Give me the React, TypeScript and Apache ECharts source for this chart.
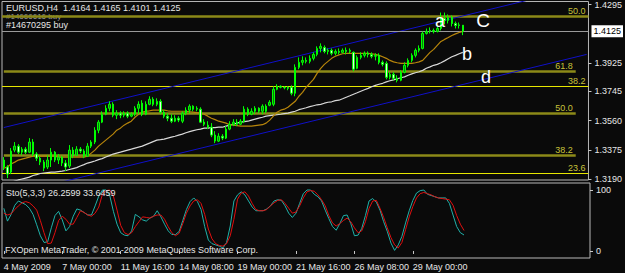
import React, { useEffect, useRef } from "react";
import * as echarts from "echarts";

const tickLabels = ["4 May 2009", "7 May 00:00", "11 May 16:00", "14 May 08:00", "19 May 00:00", "21 May 16:00", "26 May 08:00", "29 May 00:00"];
const barsPerTick = 16;
const slotCount = 161;

const opens = [
  1.3310, 1.3266, 1.3234, 1.3373, 1.3398, 1.3360, 1.3379, 1.3360, 1.3424, 1.3348,
  1.3322, 1.3297, 1.3266, 1.3310, 1.3360, 1.3310, 1.3329, 1.3291, 1.3272, 1.3373,
  1.3341, 1.3379, 1.3367, 1.3335, 1.3398, 1.3424, 1.3499, 1.3550, 1.3600, 1.3638,
  1.3663, 1.3594, 1.3607, 1.3594, 1.3607, 1.3588, 1.3600, 1.3638, 1.3670, 1.3600,
  1.3663, 1.3695, 1.3663, 1.3682, 1.3613, 1.3588, 1.3575, 1.3556, 1.3575, 1.3556,
  1.3607, 1.3626, 1.3651, 1.3632, 1.3632, 1.3550, 1.3531, 1.3518, 1.3468, 1.3430,
  1.3461, 1.3449, 1.3506, 1.3537, 1.3550, 1.3537, 1.3556, 1.3632, 1.3600, 1.3619,
  1.3638, 1.3619, 1.3651, 1.3657, 1.3663, 1.3758, 1.3777, 1.3771, 1.3771, 1.3771,
  1.3733, 1.3897, 1.3929, 1.3941, 1.3935, 1.3954, 1.3979, 1.4017, 1.4023, 1.3998,
  1.4005, 1.3986, 1.3998, 1.3992, 1.4005, 1.3998, 1.3992, 1.3891, 1.3960, 1.3973,
  1.3986, 1.3979, 1.3967, 1.3973, 1.3929, 1.3922, 1.3834, 1.3853, 1.3828, 1.3815,
  1.3866, 1.3910, 1.3941, 1.3973, 1.4005, 1.4017, 1.4112, 1.4124, 1.4131, 1.4124,
  1.4143, 1.4206, 1.4194, 1.4213, 1.4175, 1.4162, 1.4164,
];
const closes = [
  1.3266, 1.3221, 1.3367, 1.3398, 1.3360, 1.3379, 1.3360, 1.3424, 1.3348, 1.3322,
  1.3297, 1.3259, 1.3310, 1.3360, 1.3310, 1.3329, 1.3291, 1.3266, 1.3373, 1.3341,
  1.3379, 1.3367, 1.3335, 1.3398, 1.3424, 1.3499, 1.3550, 1.3600, 1.3638, 1.3663,
  1.3594, 1.3607, 1.3594, 1.3607, 1.3588, 1.3600, 1.3638, 1.3663, 1.3600, 1.3663,
  1.3695, 1.3663, 1.3682, 1.3613, 1.3588, 1.3575, 1.3556, 1.3575, 1.3563, 1.3607,
  1.3626, 1.3651, 1.3632, 1.3638, 1.3550, 1.3537, 1.3518, 1.3468, 1.3430, 1.3461,
  1.3449, 1.3506, 1.3537, 1.3550, 1.3537, 1.3556, 1.3632, 1.3600, 1.3619, 1.3638,
  1.3619, 1.3651, 1.3619, 1.3676, 1.3758, 1.3777, 1.3771, 1.3768, 1.3764, 1.3733,
  1.3897, 1.3929, 1.3941, 1.3935, 1.3954, 1.3979, 1.4017, 1.4030, 1.3998, 1.4005,
  1.3986, 1.3998, 1.3992, 1.4005, 1.3998, 1.4005, 1.3885, 1.3960, 1.3973, 1.3986,
  1.3979, 1.3967, 1.3973, 1.3929, 1.3916, 1.3834, 1.3853, 1.3828, 1.3815, 1.3866,
  1.3910, 1.3941, 1.3973, 1.4005, 1.4017, 1.4112, 1.4124, 1.4131, 1.4124, 1.4143,
  1.4206, 1.4194, 1.4213, 1.4175, 1.4162, 1.4166, 1.4125,
];
const highs = [
  1.3329, 1.3278, 1.3386, 1.3424, 1.3411, 1.3392, 1.3392, 1.3449, 1.3443, 1.3360,
  1.3335, 1.3310, 1.3341, 1.3386, 1.3367, 1.3348, 1.3335, 1.3310, 1.3405, 1.3392,
  1.3398, 1.3392, 1.3379, 1.3417, 1.3436, 1.3518, 1.3563, 1.3619, 1.3657, 1.3682,
  1.3676, 1.3626, 1.3619, 1.3619, 1.3619, 1.3613, 1.3651, 1.3682, 1.3689, 1.3682,
  1.3714, 1.3708, 1.3701, 1.3695, 1.3626, 1.3607, 1.3600, 1.3594, 1.3588, 1.3619,
  1.3644, 1.3663, 1.3657, 1.3651, 1.3644, 1.3569, 1.3556, 1.3544, 1.3493, 1.3480,
  1.3474, 1.3525, 1.3556, 1.3569, 1.3569, 1.3569, 1.3651, 1.3644, 1.3638, 1.3651,
  1.3644, 1.3663, 1.3663, 1.3689, 1.3777, 1.3790, 1.3783, 1.3777, 1.3777, 1.3783,
  1.3916, 1.3960, 1.3967, 1.3960, 1.3973, 1.3992, 1.4030, 1.4049, 1.4036, 1.4017,
  1.4017, 1.4011, 1.4017, 1.4017, 1.4023, 1.4017, 1.3998, 1.3973, 1.3992, 1.3998,
  1.3998, 1.3992, 1.3986, 1.3986, 1.3941, 1.3935, 1.3866, 1.3866, 1.3847, 1.3878,
  1.3929, 1.3954, 1.3986, 1.4017, 1.4036, 1.4124, 1.4143, 1.4150, 1.4143, 1.4156,
  1.4244, 1.4244, 1.4232, 1.4225, 1.4187, 1.4181, 1.4165,
];
const lows = [
  1.3247, 1.3196, 1.3221, 1.3360, 1.3348, 1.3341, 1.3348, 1.3354, 1.3335, 1.3304,
  1.3278, 1.3240, 1.3253, 1.3266, 1.3297, 1.3285, 1.3272, 1.3240, 1.3259, 1.3322,
  1.3335, 1.3354, 1.3322, 1.3329, 1.3386, 1.3411, 1.3480, 1.3544, 1.3594, 1.3619,
  1.3581, 1.3569, 1.3575, 1.3581, 1.3575, 1.3581, 1.3588, 1.3600, 1.3588, 1.3594,
  1.3657, 1.3651, 1.3651, 1.3600, 1.3575, 1.3556, 1.3544, 1.3550, 1.3550, 1.3544,
  1.3594, 1.3607, 1.3619, 1.3619, 1.3544, 1.3525, 1.3506, 1.3455, 1.3417, 1.3424,
  1.3436, 1.3443, 1.3499, 1.3525, 1.3525, 1.3531, 1.3544, 1.3588, 1.3594, 1.3600,
  1.3607, 1.3600, 1.3607, 1.3651, 1.3651, 1.3752, 1.3764, 1.3758, 1.3752, 1.3720,
  1.3714, 1.3885, 1.3910, 1.3922, 1.3922, 1.3941, 1.3967, 1.3992, 1.3986, 1.3979,
  1.3973, 1.3973, 1.3979, 1.3986, 1.3979, 1.3986, 1.3872, 1.3885, 1.3948, 1.3960,
  1.3960, 1.3954, 1.3941, 1.3916, 1.3903, 1.3821, 1.3821, 1.3815, 1.3802, 1.3809,
  1.3859, 1.3897, 1.3929, 1.3960, 1.3992, 1.4011, 1.4105, 1.4112, 1.4112, 1.4118,
  1.4131, 1.4169, 1.4175, 1.4156, 1.4143, 1.4143, 1.4101,
];
const maFast = [
  1.3259, 1.3266, 1.3285, 1.3297, 1.3310, 1.3316, 1.3322, 1.3329, 1.3335, 1.3335,
  1.3335, 1.3335, 1.3335, 1.3335, 1.3335, 1.3329, 1.3329, 1.3329, 1.3329, 1.3329,
  1.3329, 1.3329, 1.3329, 1.3335, 1.3354, 1.3373, 1.3398, 1.3417, 1.3436, 1.3455,
  1.3474, 1.3499, 1.3512, 1.3531, 1.3544, 1.3556, 1.3581, 1.3600, 1.3613, 1.3619,
  1.3622, 1.3626, 1.3626, 1.3626, 1.3626, 1.3622, 1.3619, 1.3619, 1.3619, 1.3619,
  1.3619, 1.3616, 1.3613, 1.3610, 1.3607, 1.3600, 1.3588, 1.3575, 1.3566, 1.3556,
  1.3550, 1.3544, 1.3534, 1.3531, 1.3528, 1.3525, 1.3525, 1.3525, 1.3525, 1.3528,
  1.3531, 1.3534, 1.3544, 1.3563, 1.3588, 1.3613, 1.3626, 1.3632, 1.3644, 1.3663,
  1.3682, 1.3714, 1.3739, 1.3771, 1.3796, 1.3821, 1.3859, 1.3891, 1.3916, 1.3935,
  1.3954, 1.3967, 1.3976, 1.3983, 1.3986, 1.3986, 1.3986, 1.3986, 1.3986, 1.3986,
  1.3986, 1.3983, 1.3979, 1.3973, 1.3964, 1.3954, 1.3941, 1.3932, 1.3926, 1.3922,
  1.3922, 1.3922, 1.3922, 1.3926, 1.3932, 1.3941, 1.3967, 1.3992, 1.4011, 1.4036,
  1.4061, 1.4074, 1.4086, 1.4099, 1.4109, 1.4118, 1.4124,
];
const maSlow = [
  1.3152, 1.3158, 1.3168, 1.3177, 1.3184, 1.3190, 1.3196, 1.3202, 1.3212, 1.3218,
  1.3225, 1.3228, 1.3231, 1.3234, 1.3234, 1.3237, 1.3240, 1.3244, 1.3250, 1.3256,
  1.3262, 1.3272, 1.3281, 1.3291, 1.3297, 1.3304, 1.3313, 1.3319, 1.3329, 1.3338,
  1.3348, 1.3354, 1.3360, 1.3367, 1.3373, 1.3379, 1.3386, 1.3392, 1.3398, 1.3408,
  1.3417, 1.3427, 1.3436, 1.3439, 1.3443, 1.3449, 1.3455, 1.3461, 1.3468, 1.3474,
  1.3483, 1.3490, 1.3496, 1.3502, 1.3506, 1.3512, 1.3512, 1.3515, 1.3515, 1.3518,
  1.3518, 1.3525, 1.3531, 1.3537, 1.3544, 1.3550, 1.3553, 1.3556, 1.3563, 1.3569,
  1.3575, 1.3581, 1.3588, 1.3591, 1.3594, 1.3597, 1.3600, 1.3604, 1.3607, 1.3613,
  1.3619, 1.3629, 1.3635, 1.3641, 1.3648, 1.3654, 1.3660, 1.3663, 1.3670, 1.3676,
  1.3679, 1.3686, 1.3689, 1.3698, 1.3708, 1.3717, 1.3727, 1.3736, 1.3746, 1.3755,
  1.3764, 1.3774, 1.3783, 1.3790, 1.3796, 1.3805, 1.3812, 1.3818, 1.3825, 1.3831,
  1.3837, 1.3847, 1.3856, 1.3863, 1.3869, 1.3878, 1.3891, 1.3900, 1.3910, 1.3916,
  1.3926, 1.3938, 1.3951, 1.3964, 1.3973, 1.3983, 1.3992,
];
const stochMain = [
  70, 49, 60, 75, 82, 79, 76, 70, 60, 43,
  25, 14, 15, 38, 58, 65, 51, 33, 40, 57,
  69, 67, 63, 59, 59, 74, 90, 100, 100, 91,
  65, 44, 30, 26, 25, 33, 60, 56, 51, 49,
  54, 57, 66, 56, 44, 33, 27, 27, 32, 50,
  68, 81, 87, 81, 68, 40, 18, 12, 10, 8,
  5, 14, 41, 82, 92, 97, 92, 82, 72, 66,
  66, 66, 69, 74, 82, 84, 83, 74, 62, 55,
  62, 78, 94, 100, 100, 93, 89, 82, 67, 53,
  40, 34, 45, 58, 59, 45, 25, 26, 37, 58,
  82, 86, 80, 67, 48, 32, 13, 1, 10, 24,
  46, 66, 83, 95, 99, 100, 93, 91, 89, 87,
  87, 87, 78, 59, 40, 30, 26.2599,
];
const stochSignal = [
  62, 59, 61, 68, 74, 79, 81, 79, 74, 67,
  50, 30, 12, 13, 30, 50, 57, 52, 44, 44,
  55, 66, 63, 59, 57, 62, 72, 93, 99, 100,
  90, 67, 42, 30, 27, 30, 40, 48, 56, 55,
  54, 57, 59, 59, 52, 40, 30, 25, 29, 45,
  62, 74, 82, 84, 78, 60, 36, 20, 12, 9,
  8, 12, 25, 52, 85, 95, 97, 90, 78, 68,
  66, 66, 68, 74, 79, 83, 84, 78, 70, 62,
  64, 74, 87, 97, 99, 98, 92, 84, 74, 58,
  46, 41, 45, 50, 54, 48, 38, 30, 33, 48,
  70, 82, 83, 70, 55, 38, 22, 10, 5, 14,
  35, 56, 73, 87, 94, 96, 94, 92, 89, 87,
  86, 85, 84, 75, 58, 44, 33.6459,
];
const priceTicks = [1.4295, 1.3925, 1.3745, 1.356, 1.3375, 1.319];
const stochTicks = [0, 100];
const bidPrice = 1.4125;
const fibPrices = [1.4219, 1.3872, 1.3777, 1.3607, 1.3341, 1.3228];
const fibLabels = ["50.0", "61.8", "38.2", "50.0", "38.2", "23.6"];
const fibKinds = ["olive", "olive", "yellow", "olive", "olive", "yellow"];
const fibToEdge = [true, false, true, false, false, true];
const fibEndBar = 157;
const channelUpper = [[0, 1.3516], [160, 1.4413]];
const channelLower = [[0, 1.3082], [160, 1.3979]];

const FONT = "'Liberation Sans', Arial, sans-serif";
const slots = Array.from({ length: slotCount }, (_, i) => String(i));
const tickInterval = (index: number) => index % barsPerTick === 0 && index / barsPerTick < tickLabels.length;

export default function App() {
  const ref = useRef<HTMLDivElement>(null);
  useEffect(() => {
    if (!ref.current) return;
    const chart = echarts.init(ref.current, null, { renderer: "svg" });
    const candles = opens.map((o, i) => [o, closes[i], lows[i], highs[i]]);
    const fibData = fibPrices.map((p, k) => {
      const color = fibKinds[k] === "olive" ? "#8c8a18" : "#e6e600";
      const width = fibKinds[k] === "olive" ? 2.5 : 1.2;
      const label = {
        show: true,
        position: "insideEndTop",
        formatter: fibLabels[k],
        color: "#c8c23a",
        fontSize: 9,
        fontFamily: FONT,
        distance: [3, 1],
      };
      if (fibToEdge[k]) return { yAxis: p, lineStyle: { color, width, type: "solid" }, label };
      return [
        { coord: [0, p], lineStyle: { color, width, type: "solid" }, label },
        { coord: [fibEndBar, p] },
      ];
    });
    const option: any = {
      animation: false,
      backgroundColor: "#0a0a0a",
      textStyle: { fontFamily: FONT },
      grid: [
        { left: 2, top: 1, width: 588, height: 179, show: true, borderColor: "#b8b8b8", borderWidth: 1 },
        { left: 2, top: 183, width: 588, height: 75, show: true, borderColor: "#b8b8b8", borderWidth: 1 },
      ],
      xAxis: [
        {
          type: "category", gridIndex: 0, data: slots, boundaryGap: true,
          axisLine: { show: false }, axisTick: { show: false }, axisLabel: { show: false }, splitLine: { show: false },
        },
        {
          type: "category", gridIndex: 1, data: slots, boundaryGap: true,
          axisLine: { show: false },
          axisTick: { show: true, interval: tickInterval, alignWithLabel: true, length: 3, lineStyle: { color: "#c8c8c8" } },
          axisLabel: {
            interval: tickInterval,
            formatter: (_: string, index: number) => tickLabels[index / barsPerTick] ?? "",
            color: "#e6e6e6", fontSize: 9, fontFamily: FONT, align: "left", margin: 4,
          },
          splitLine: { show: false },
        },
      ],
      yAxis: [
        {
          type: "value", gridIndex: 0, position: "right", min: 1.31837, max: 1.4314, scale: true,
          axisLine: { show: false }, splitLine: { show: false },
          axisTick: { show: true, customValues: priceTicks, length: 3, lineStyle: { color: "#c8c8c8" } },
          axisLabel: { customValues: priceTicks, formatter: (v: number) => v.toFixed(4), color: "#e6e6e6", fontSize: 9, fontFamily: FONT, margin: 6 },
        },
        {
          type: "value", gridIndex: 1, position: "right", min: -11.48, max: 111.48,
          axisLine: { show: false }, splitLine: { show: false },
          axisTick: { show: true, customValues: stochTicks, length: 3, lineStyle: { color: "#c8c8c8" } },
          axisLabel: { customValues: stochTicks, formatter: (v: number) => String(v), color: "#e6e6e6", fontSize: 9, fontFamily: FONT, margin: 6 },
        },
      ],
      series: [
        {
          type: "line", name: "fib", xAxisIndex: 0, yAxisIndex: 0, data: [], silent: true, z: 1,
          markLine: { silent: true, symbol: ["none", "none"], z: 1, precision: 4, data: fibData },
        },
        {
          type: "line", name: "chUp", xAxisIndex: 0, yAxisIndex: 0, data: channelUpper, showSymbol: false, silent: true, z: 2,
          lineStyle: { color: "#1010c8", width: 1 },
        },
        {
          type: "line", name: "chLo", xAxisIndex: 0, yAxisIndex: 0, data: channelLower, showSymbol: false, silent: true, z: 2,
          lineStyle: { color: "#1010c8", width: 1 },
        },
        {
          type: "line", name: "maSlow", xAxisIndex: 0, yAxisIndex: 0, data: maSlow, showSymbol: false, silent: true, z: 3,
          lineStyle: { color: "#d8d8d8", width: 1.2 },
        },
        {
          type: "line", name: "maFast", xAxisIndex: 0, yAxisIndex: 0, data: maFast, showSymbol: false, silent: true, z: 3,
          lineStyle: { color: "#b8860b", width: 1.2 },
        },
        {
          type: "candlestick", name: "EURUSD", xAxisIndex: 0, yAxisIndex: 0, data: candles, barWidth: 2, z: 4,
          itemStyle: { color: "#0b7a0b", color0: "#e6f6e6", borderColor: "#00ff00", borderColor0: "#00ff00", borderWidth: 1 },
          markLine: {
            silent: true, symbol: ["none", "none"], z: 3, precision: 4,
            data: [{ yAxis: bidPrice }],
            lineStyle: { color: "#9a9a9a", width: 1, type: "solid" },
            label: {
              show: true, position: "end", distance: 3,
              formatter: () => bidPrice.toFixed(4),
              backgroundColor: "#ffffff", color: "#000000", padding: [2, 2, 1, 2], fontSize: 9, fontFamily: FONT,
            },
          },
        },
        {
          type: "line", name: "K", xAxisIndex: 1, yAxisIndex: 1, data: stochMain, showSymbol: false, silent: true, z: 3,
          lineStyle: { color: "#20b2aa", width: 1 },
        },
        {
          type: "line", name: "D", xAxisIndex: 1, yAxisIndex: 1, data: stochSignal, showSymbol: false, silent: true, z: 4,
          lineStyle: { color: "#e01010", width: 1 },
        },
      ],
      graphic: [
        { type: "text", x: 6, y: 16, z: 0, style: { text: "#14666616 buy", fill: "#9a9a9a", font: `8px ${FONT}`, verticalAlign: "middle" } },
        { type: "text", x: 6, y: 7.5, z: 10, style: { text: "EURUSD,H4  1.4164 1.4165 1.4101 1.4125", fill: "#e6e6e6", font: `9px ${FONT}`, verticalAlign: "middle" } },
        { type: "text", x: 6, y: 24.5, z: 10, style: { text: "#14670295 buy", fill: "#e6e6e6", font: `9px ${FONT}`, verticalAlign: "middle" } },
        { type: "text", x: 6, y: 193, z: 10, style: { text: "Sto(5,3,3) 26.2599 33.6459", fill: "#e6e6e6", font: `9px ${FONT}`, verticalAlign: "middle" } },
        { type: "text", x: 5, y: 250, z: 10, style: { text: "FXOpen MetaTrader, © 2001-2009 MetaQuotes Software Corp.", fill: "#e6e6e6", font: `9px ${FONT}`, verticalAlign: "middle" } },
        { type: "text", x: 440, y: 20.5, z: 10, style: { text: "a", fill: "#ffffff", font: `18px ${FONT}`, align: "center", verticalAlign: "middle" } },
        { type: "text", x: 483, y: 20, z: 10, style: { text: "C", fill: "#ffffff", font: `19px ${FONT}`, align: "center", verticalAlign: "middle" } },
        { type: "text", x: 467, y: 54, z: 10, style: { text: "b", fill: "#ffffff", font: `18px ${FONT}`, align: "center", verticalAlign: "middle" } },
        { type: "text", x: 486, y: 77, z: 10, style: { text: "d", fill: "#ffffff", font: `18px ${FONT}`, align: "center", verticalAlign: "middle" } },
      ],
    };
    chart.setOption(option);
    return () => chart.dispose();
  }, []);
  return <div ref={ref} style={{ position: "fixed", left: 0, top: 0, width: 625, height: 273 }} />;
}
